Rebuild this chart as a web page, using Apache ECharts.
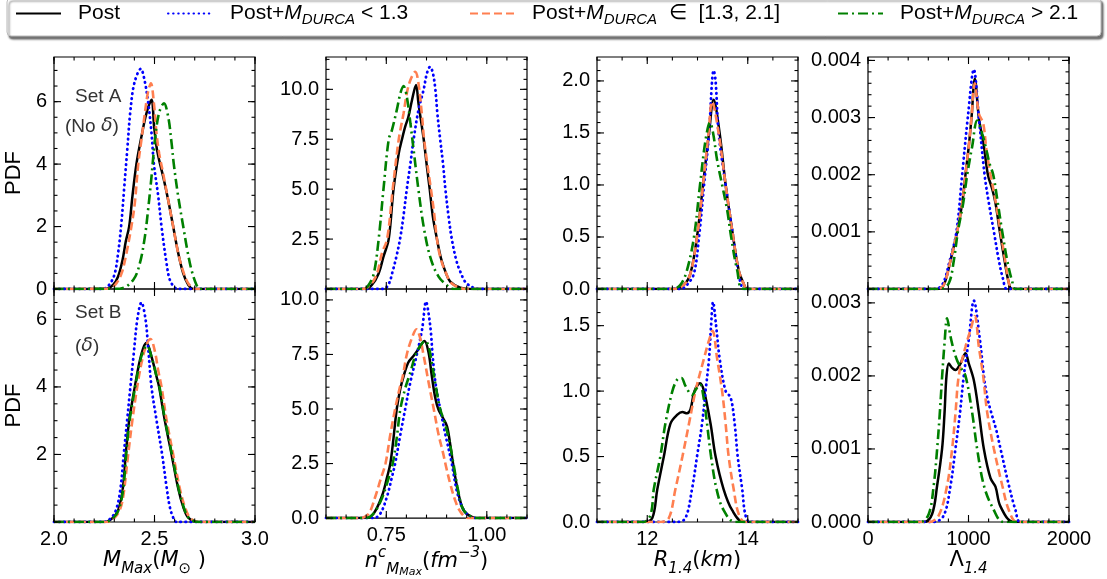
<!DOCTYPE html>
<html><head><meta charset="utf-8">
<script src="https://cdn.jsdelivr.net/npm/echarts@6/dist/echarts.min.js"></script>
<style>html,body{margin:0;padding:0;background:#fff}#c{width:1107px;height:579px}</style>
</head><body><div id="c"></div>
<script>
// ---------------- DATA ----------------
const seriesNames = ['Post', 'Post+M_DURCA<1.3', 'Post+M_DURCA in [1.3,2.1]', 'Post+M_DURCA>2.1'];

// Set A, M_Max
const mmaxA_post = [[2.0,0],[2.261,0.01],[2.294,0.13],[2.319,0.4],[2.341,0.93],[2.357,1.52],[2.374,2.0],[2.39,2.96],[2.41,4.0],[2.435,4.88],[2.46,5.63],[2.485,6.06],[2.498,5.2],[2.51,4.56],[2.523,4.13],[2.543,3.6],[2.568,2.85],[2.593,2.0],[2.618,1.15],[2.643,0.5],[2.668,0.13],[2.693,0],[3.0,0]];
const mmaxA_low = [[2.0,0],[2.24,0],[2.27,0.1],[2.30,0.45],[2.32,1.2],[2.335,2.1],[2.35,3.3],[2.365,4.5],[2.38,5.7],[2.40,6.6],[2.432,7.05],[2.45,6.7],[2.468,6.0],[2.485,5.0],[2.497,4.0],[2.518,3.0],[2.535,2.0],[2.56,0.82],[2.576,0.3],[2.60,0.05],[2.62,0],[3.0,0]];
const mmaxA_mid = [[2.0,0],[2.277,0.01],[2.31,0.18],[2.336,0.5],[2.357,1.04],[2.385,2.0],[2.402,2.75],[2.419,4.0],[2.435,4.78],[2.452,5.63],[2.468,6.32],[2.482,6.59],[2.497,5.95],[2.51,4.99],[2.523,4.35],[2.543,3.7],[2.568,2.85],[2.593,2.0],[2.618,1.14],[2.643,0.56],[2.668,0.18],[2.701,0],[3.0,0]];
const mmaxA_high = [[2.0,0],[2.327,0.01],[2.394,0.29],[2.427,0.82],[2.452,1.67],[2.468,2.53],[2.485,3.59],[2.497,4.45],[2.51,5.2],[2.527,5.73],[2.547,5.95],[2.568,5.52],[2.585,4.67],[2.596,4.0],[2.618,2.96],[2.643,2.0],[2.663,1.25],[2.684,0.61],[2.709,0.13],[2.726,0],[3.0,0]];
// Set B, M_Max
const mmaxB_post = [[2.0,0],[2.252,0],[2.294,0.13],[2.319,0.35],[2.336,0.74],[2.347,1.24],[2.357,2.0],[2.372,2.92],[2.385,3.42],[2.402,4.0],[2.424,4.7],[2.444,5.15],[2.46,5.3],[2.485,4.9],[2.51,4.31],[2.523,4.0],[2.551,3.02],[2.585,2.0],[2.618,0.99],[2.643,0.45],[2.668,0.13],[2.718,0],[3.0,0]];
const mmaxB_low = [[2.0,0],[2.244,0],[2.286,0.13],[2.311,0.4],[2.331,1.0],[2.347,2.0],[2.364,3.02],[2.38,4.0],[2.397,5.0],[2.415,6.02],[2.435,6.5],[2.455,6.02],[2.468,5.2],[2.485,4.0],[2.51,3.02],[2.538,2.0],[2.56,1.04],[2.576,0.45],[2.593,0.13],[2.61,0],[3.0,0]];
const mmaxB_mid = [[2.0,0],[2.269,0],[2.302,0.13],[2.327,0.35],[2.344,0.74],[2.369,2.0],[2.39,3.02],[2.414,4.0],[2.435,4.7],[2.46,5.25],[2.48,5.42],[2.502,5.05],[2.518,4.5],[2.535,4.0],[2.56,3.02],[2.593,2.0],[2.626,0.99],[2.651,0.45],[2.676,0.13],[2.718,0],[3.0,0]];
const mmaxB_high = [[2.0,0],[2.255,0],[2.296,0.13],[2.321,0.35],[2.338,0.74],[2.349,1.24],[2.359,2.0],[2.374,2.92],[2.387,3.42],[2.404,4.0],[2.426,4.7],[2.446,5.1],[2.462,5.22],[2.487,4.85],[2.512,4.28],[2.525,4.0],[2.553,3.0],[2.587,2.0],[2.62,0.99],[2.645,0.45],[2.67,0.13],[2.72,0],[3.0,0]];
// Set A, n^c
const ncA_post = [[0.6,0],[0.698,0],[0.714,0.2],[0.731,0.78],[0.743,1.62],[0.756,2.5],[0.768,5.0],[0.781,6.8],[0.789,7.5],[0.797,8.13],[0.805,8.63],[0.814,9.47],[0.824,10.22],[0.83,9.3],[0.843,7.5],[0.851,6.13],[0.858,5.0],[0.866,3.6],[0.876,2.5],[0.886,1.54],[0.897,0.87],[0.909,0.37],[0.934,0.07],[0.967,0],[1.1,0]];
const ncA_low = [[0.6,0],[0.743,0],[0.756,0.25],[0.766,0.9],[0.776,1.7],[0.785,2.6],[0.793,3.7],[0.801,5.0],[0.81,6.29],[0.818,7.5],[0.83,8.96],[0.843,10.0],[0.851,10.8],[0.859,11.13],[0.866,10.8],[0.872,10.0],[0.877,8.8],[0.884,7.5],[0.891,6.29],[0.897,5.0],[0.905,3.62],[0.913,2.5],[0.924,1.45],[0.934,0.87],[0.95,0.28],[0.983,0],[1.1,0]];
const ncA_mid = [[0.6,0],[0.69,0],[0.71,0.2],[0.727,0.78],[0.739,1.79],[0.752,2.5],[0.766,5.0],[0.781,7.5],[0.793,8.8],[0.801,9.8],[0.81,10.47],[0.822,10.88],[0.83,10.3],[0.839,8.63],[0.844,7.5],[0.853,6.13],[0.861,5.0],[0.869,3.79],[0.876,2.5],[0.884,1.62],[0.897,0.87],[0.913,0.28],[0.95,0],[1.1,0]];
const ncA_high = [[0.6,0],[0.694,0],[0.706,0.2],[0.719,0.78],[0.731,2.5],[0.743,5.0],[0.756,7.5],[0.764,7.96],[0.776,8.96],[0.785,9.8],[0.793,10.17],[0.801,9.63],[0.81,8.3],[0.818,6.96],[0.83,4.96],[0.843,3.12],[0.859,1.62],[0.88,0.62],[0.905,0.12],[0.917,0],[1.1,0]];
// Set B, n^c
const ncB_post = [[0.6,0],[0.698,0],[0.718,0.2],[0.739,1.0],[0.752,1.88],[0.76,2.5],[0.768,3.68],[0.776,5.0],[0.785,5.94],[0.793,6.5],[0.805,7.14],[0.818,7.44],[0.83,7.74],[0.845,8.12],[0.855,7.6],[0.863,6.54],[0.872,5.49],[0.88,4.96],[0.891,4.59],[0.901,4.21],[0.909,3.38],[0.916,2.5],[0.926,1.43],[0.938,0.53],[0.95,0.2],[0.975,0],[1.1,0]];
const ncB_low = [[0.6,0],[0.719,0],[0.735,0.2],[0.752,1.0],[0.764,1.88],[0.772,2.5],[0.785,3.83],[0.797,5.0],[0.81,6.24],[0.826,7.5],[0.839,8.65],[0.849,9.92],[0.855,9.4],[0.861,8.5],[0.865,7.5],[0.872,6.24],[0.884,5.0],[0.897,3.83],[0.913,2.5],[0.925,1.28],[0.938,0.53],[0.95,0.2],[0.967,0],[1.1,0]];
const ncB_mid = [[0.6,0],[0.685,0],[0.706,0.2],[0.723,1.0],[0.735,1.73],[0.748,2.5],[0.76,3.83],[0.772,5.0],[0.783,5.94],[0.791,6.5],[0.801,7.5],[0.814,8.27],[0.825,8.65],[0.834,8.27],[0.843,7.44],[0.855,6.24],[0.868,5.0],[0.88,3.83],[0.891,3.0],[0.899,2.33],[0.909,1.58],[0.921,0.83],[0.934,0.3],[0.954,0],[1.1,0]];
const ncB_high = [[0.6,0],[0.698,0],[0.718,0.2],[0.739,0.9],[0.754,1.73],[0.766,2.5],[0.776,3.68],[0.785,5.0],[0.797,5.94],[0.81,6.69],[0.822,7.44],[0.834,7.89],[0.847,8.12],[0.855,7.89],[0.863,7.14],[0.874,5.94],[0.884,5.0],[0.894,4.44],[0.905,3.68],[0.917,2.5],[0.927,1.43],[0.938,0.53],[0.95,0.2],[0.975,0],[1.1,0]];
// Set A, R_1.4
const rA_post = [[11,0],[12.53,0],[12.73,0.04],[12.86,0.15],[12.99,0.5],[13.11,1.0],[13.23,1.5],[13.32,1.82],[13.44,1.5],[13.56,1.0],[13.71,0.5],[13.82,0.18],[13.92,0.05],[13.99,0],[15,0]];
const rA_low = [[11,0],[12.66,0],[12.79,0.04],[12.93,0.15],[13.03,0.5],[13.13,1.0],[13.23,1.5],[13.29,2.0],[13.32,2.1],[13.36,2.0],[13.42,1.5],[13.56,1.0],[13.71,0.5],[13.82,0.15],[13.95,0],[15,0]];
const rA_mid = [[11,0],[12.53,0],[12.73,0.04],[12.86,0.15],[12.99,0.5],[13.11,1.0],[13.22,1.5],[13.29,1.8],[13.42,1.5],[13.56,1.0],[13.71,0.5],[13.82,0.18],[13.92,0.05],[13.99,0],[15,0]];
const rA_high = [[11,0],[12.5,0],[12.66,0.04],[12.79,0.18],[12.93,0.5],[13.05,1.0],[13.16,1.43],[13.25,1.6],[13.31,1.5],[13.39,1.24],[13.49,1.0],[13.59,0.76],[13.67,0.5],[13.79,0.18],[13.92,0],[15,0]];
// Set B, R_1.4
const rB_post = [[11,0],[11.93,0],[12.1,0.03],[12.2,0.25],[12.33,0.5],[12.46,0.75],[12.6,0.82],[12.7,0.84],[12.79,0.83],[12.86,0.86],[12.94,1.0],[13.05,1.06],[13.13,1.0],[13.26,0.75],[13.36,0.5],[13.52,0.25],[13.69,0.09],[13.92,0],[15,0]];
const rB_low = [[11,0],[12.6,0],[12.76,0.03],[12.89,0.25],[12.99,0.5],[13.09,0.75],[13.16,1.0],[13.23,1.25],[13.27,1.5],[13.31,1.68],[13.37,1.5],[13.44,1.25],[13.56,1.0],[13.66,0.95],[13.74,0.75],[13.8,0.5],[13.89,0.25],[13.95,0.06],[14.04,0],[15,0]];
const rB_mid = [[11,0],[12.26,0],[12.43,0.03],[12.56,0.25],[12.7,0.5],[12.83,0.75],[12.96,1.0],[13.13,1.25],[13.23,1.39],[13.3,1.46],[13.39,1.25],[13.49,1.0],[13.56,0.75],[13.62,0.5],[13.72,0.25],[13.82,0.06],[13.95,0],[15,0]];
const rB_high = [[11,0],[11.93,0],[12.07,0.06],[12.13,0.25],[12.26,0.5],[12.36,0.75],[12.5,1.0],[12.6,1.09],[12.68,1.1],[12.76,1.04],[12.89,0.97],[12.98,1.02],[13.05,1.05],[13.13,0.93],[13.19,0.75],[13.27,0.5],[13.38,0.25],[13.52,0.09],[13.75,0],[15,0]];
// Set A, Lambda_1.4
const lamA_post = [[0,0],[688,0],[754,0.00007],[821,0.0005],[887,0.001],[937,0.0015],[970,0.002],[1003,0.0025],[1030,0.003],[1063,0.00368],[1103,0.003],[1153,0.0025],[1193,0.002],[1236,0.00175],[1269,0.0015],[1312,0.001],[1359,0.0005],[1402,0.0001],[1435,0],[2000,0]];
const lamA_low = [[0,0],[654,0],[738,0.00007],[814,0.0005],[880,0.001],[937,0.002],[993,0.003],[1053,0.00384],[1103,0.003],[1160,0.002],[1203,0.0015],[1253,0.001],[1302,0.0005],[1346,0.00016],[1385,0],[2000,0]];
const lamA_mid = [[0,0],[688,0],[754,0.00007],[821,0.0005],[887,0.001],[937,0.0015],[970,0.002],[1003,0.0025],[1030,0.003],[1063,0.0036],[1103,0.00307],[1146,0.0029],[1179,0.00243],[1219,0.002],[1262,0.00161],[1319,0.001],[1365,0.0005],[1402,0.0001],[1435,0],[2000,0]];
const lamA_high = [[0,0],[721,0],[804,0.0001],[854,0.0005],[894,0.001],[947,0.0015],[987,0.002],[1037,0.0025],[1086,0.00295],[1136,0.00272],[1169,0.0025],[1209,0.0022],[1246,0.002],[1292,0.0015],[1336,0.001],[1385,0.0005],[1435,0.00013],[1468,0],[2000,0]];
// Set B, Lambda_1.4
const lamB_post = [[0,0],[555,0],[638,0.00011],[688,0.0005],[737,0.001],[761,0.00148],[781,0.002],[804,0.00217],[837,0.00211],[870,0.00208],[920,0.00217],[970,0.00231],[1003,0.00217],[1053,0.00194],[1103,0.0015],[1153,0.001],[1219,0.0006],[1269,0.00048],[1319,0.00021],[1452,0],[2000,0]];
const lamB_low = [[0,0],[654,0],[754,0.00009],[821,0.0005],[870,0.001],[914,0.00148],[953,0.002],[1003,0.0025],[1053,0.00303],[1113,0.0025],[1153,0.002],[1186,0.00171],[1226,0.0015],[1276,0.00126],[1319,0.001],[1402,0.0005],[1468,0.00016],[1518,0],[2000,0]];
const lamB_mid = [[0,0],[605,0],[704,0.00009],[787,0.0005],[837,0.001],[870,0.00148],[903,0.002],[970,0.0024],[1020,0.00263],[1063,0.00282],[1103,0.0024],[1146,0.002],[1186,0.0015],[1253,0.001],[1336,0.0005],[1402,0.00016],[1485,0],[2000,0]];
const lamB_high = [[0,0],[522,0],[605,0.00011],[654,0.0005],[688,0.001],[714,0.00148],[738,0.002],[761,0.00244],[787,0.00279],[821,0.00254],[854,0.00235],[887,0.00221],[920,0.00212],[970,0.002],[1036,0.0015],[1086,0.001],[1153,0.0005],[1236,0.00021],[1352,0],[2000,0]];

// tick labels
const mmaxTicks = [2.0, 2.5, 3.0];
const ncTicks = [0.75, 1.00];
const rTicks = [12, 14];
const lamTicks = [0, 1000, 2000];
const pdfA_mmax = [0, 2, 4, 6];
const pdfA_nc = [2.5, 5.0, 7.5, 10.0];
const pdfA_r = [0.0, 0.5, 1.0, 1.5, 2.0];
const pdfA_lam = [0.001, 0.002, 0.003, 0.004];
const pdfB_mmax = [2, 4, 6];
const pdfB_nc = [0.0, 2.5, 5.0, 7.5, 10.0];
const pdfB_r = [0.0, 0.5, 1.0, 1.5];
const pdfB_lam = [0.000, 0.001, 0.002, 0.003];

// ---------------- LAYOUT / STYLE ----------------
function steps(a, b, s) { const out = []; const n = Math.floor((b - a) / s + 1e-6); for (let i = 0; i <= n; i++) out.push(+(a + i * s).toFixed(8)); return out; }
const colLeft = [54, 326, 597, 868];
const colW = 201;
const rowTop = [57, 289];
const rowH = [232, 233];
const TICKFONT = 'Liberation Sans';
const MATHFONT = 'DejaVu Sans';
const LONG = 7, SHORT = 3.5;

const xSpec = [
  {min: 2.0, max: 3.0, interval: 0.5, majors: [2.0, 2.5, 3.0], minor: 0.1, labels: mmaxTicks, fmt: v => v.toFixed(1),
   name: '{i|M}{s|Max}{n|(}{i|M}{s|⊙}{n| )}'},
  {min: 0.6, max: 1.1, interval: 0.05, majors: [0.75, 1.0], minor: 0.05, labels: ncTicks, fmt: v => v.toFixed(2),
   name: '{i|n}{sup|c}{s|M}{ss|Max}{n|(}{i|fm}{sup|−3}{n|)}'},
  {min: 11, max: 15, interval: 0.5, majors: [12, 14], minor: 0.5, labels: rTicks, fmt: v => String(v),
   name: '{i|R}{s|1.4}{n|(}{i|km}{n|)}'},
  {min: 0, max: 2000, interval: 1000, majors: [0, 1000, 2000], minor: 200, labels: lamTicks, fmt: v => String(v),
   name: '{n|Λ}{s|1.4}'}
];
const ySpec = [
  [ {max: 7.43, interval: 2, minor: 0.5, labels: pdfA_mmax, fmt: v => String(v)},
    {max: 11.62, interval: 2.5, minor: 0.5, labels: pdfA_nc, fmt: v => v.toFixed(1)},
    {max: 2.23, interval: 0.5, minor: 0.1, labels: pdfA_r, fmt: v => v.toFixed(1)},
    {max: 0.00406, interval: 0.001, minor: 0.0002, labels: pdfA_lam, fmt: v => v.toFixed(3)} ],
  [ {max: 6.9, interval: 2, minor: 0.5, labels: pdfB_mmax, fmt: v => String(v)},
    {max: 10.5, interval: 2.5, minor: 0.5, labels: pdfB_nc, fmt: v => v.toFixed(1)},
    {max: 1.78, interval: 0.5, minor: 0.1, labels: pdfB_r, fmt: v => v.toFixed(1)},
    {max: 0.00319, interval: 0.001, minor: 0.0002, labels: pdfB_lam, fmt: v => v.toFixed(3)} ]
];
const panelData = [
  [ [mmaxA_post, mmaxA_low, mmaxA_mid, mmaxA_high], [ncA_post, ncA_low, ncA_mid, ncA_high], [rA_post, rA_low, rA_mid, rA_high], [lamA_post, lamA_low, lamA_mid, lamA_high] ],
  [ [mmaxB_post, mmaxB_low, mmaxB_mid, mmaxB_high], [ncB_post, ncB_low, ncB_mid, ncB_high], [rB_post, rB_low, rB_mid, rB_high], [lamB_post, lamB_low, lamB_mid, lamB_high] ]
];
const lineStyles = [
  {color: '#000000', width: 2.5, type: 'solid'},
  {color: '#0000ff', width: 2.8, type: [0.5, 4.6], cap: 'round'},
  {color: '#ff7f50', width: 2.6, type: [8, 4]},
  {color: '#008000', width: 2.6, type: [10, 4, 2, 4]}
];

const mathRich = {
  n: {fontFamily: MATHFONT, fontSize: 21, color: '#000', lineHeight: 32},
  i: {fontFamily: MATHFONT, fontStyle: 'italic', fontSize: 21, color: '#000', lineHeight: 32},
  s: {fontFamily: MATHFONT, fontStyle: 'italic', fontSize: 15, color: '#000', lineHeight: 17, verticalAlign: 'bottom'},
  ss: {fontFamily: MATHFONT, fontStyle: 'italic', fontSize: 11, color: '#000', lineHeight: 10, verticalAlign: 'bottom'},
  sup: {fontFamily: MATHFONT, fontStyle: 'italic', fontSize: 15, color: '#000', lineHeight: 17, verticalAlign: 'top'}
};

function pickLabel(list, fmt) {
  return v => list.some(l => Math.abs(l - v) < 1e-9 * Math.max(1, Math.abs(l)) || Math.abs(l - v) < 1e-12) ? fmt(v) : '';
}
function axisDef(o) {
  const ax = {type: 'value', gridIndex: o.g, min: o.min, max: o.max, interval: o.interval,
    axisLine: {show: false, onZero: false},
    splitLine: {show: false},
    axisTick: {show: false},
    axisLabel: o.label ? {show: true, formatter: pickLabel(o.labels, o.fmt), margin: 7, fontFamily: TICKFONT, fontSize: 20, color: '#000'}
                       : {show: false}};
  if (o.name) { ax.name = o.name; ax.nameLocation = 'middle'; ax.nameGap = o.nameGap; ax.nameTextStyle = o.nameTextStyle; }
  return ax;
}

// tick marks: inward ticks on all four sides, placed through the panel's own scales
function tickRenderer(params, api) {
  const side = api.value(2), len = api.value(3);
  const p = api.coord([api.value(0), api.value(1)]);
  let x2 = p[0], y2 = p[1];
  if (side === 0) y2 -= len; else if (side === 1) y2 += len; else if (side === 2) x2 += len; else x2 -= len;
  return {type: 'line', shape: {x1: p[0], y1: p[1], x2: x2, y2: y2}, style: {stroke: '#000', lineWidth: 1.1}};
}

const grids = [], xAxes = [], yAxes = [], series = [];
for (let r = 0; r < 2; r++) {
  for (let c = 0; c < 4; c++) {
    const g = grids.length;
    grids.push({left: colLeft[c], top: rowTop[r], width: colW, height: rowH[r], show: true, borderColor: '#000', borderWidth: 1.2, backgroundColor: 'transparent'});
    const xs = xSpec[c], ys = ySpec[r][c];
    xAxes.push(axisDef({g, min: xs.min, max: xs.max, interval: xs.interval,
      label: r === 1, labels: xs.labels, fmt: xs.fmt,
      name: r === 1 ? xs.name : '', nameGap: 11, nameTextStyle: {rich: mathRich}}));
    yAxes.push(axisDef({g, min: 0, max: ys.max, interval: ys.interval,
      label: true, labels: ys.labels, fmt: ys.fmt,
      name: c === 0 ? 'PDF' : '', nameGap: 29, nameTextStyle: {fontFamily: TICKFONT, fontSize: 22, color: '#000'}}));
    panelData[r][c].forEach((d, k) => {
      series.push({type: 'line', name: seriesNames[k], xAxisIndex: g, yAxisIndex: g, data: d,
        smooth: 0.35, symbol: 'none', showSymbol: false, clip: true,
        lineStyle: lineStyles[k], itemStyle: {color: lineStyles[k].color}, z: 3 + k});
    });
    // tick list: [x, y, side(0 bottom,1 top,2 left,3 right), length]
    const ticks = [];
    const xMinor = steps(xs.min, xs.max, xs.minor), yMajor = steps(0, ys.max, ys.interval), yMinor = steps(0, ys.max, ys.minor);
    xMinor.forEach(v => { ticks.push([v, 0, 0, SHORT]); ticks.push([v, ys.max, 1, SHORT]); });
    xs.majors.forEach(v => { ticks.push([v, 0, 0, LONG]); ticks.push([v, ys.max, 1, LONG]); });
    yMinor.forEach(v => { ticks.push([xs.min, v, 2, SHORT]); ticks.push([xs.max, v, 3, SHORT]); });
    yMajor.forEach(v => { ticks.push([xs.min, v, 2, LONG]); ticks.push([xs.max, v, 3, LONG]); });
    series.push({type: 'custom', name: 'ticks', xAxisIndex: g, yAxisIndex: g, data: ticks, renderItem: tickRenderer,
      silent: true, clip: false, z: 10, tooltip: {show: false}});
  }
}

const legendLabels = {
  'Post': '{n|Post}',
  'Post+M_DURCA<1.3': '{n|Post+}{i|M}{s|DURCA}{n| < 1.3}',
  'Post+M_DURCA in [1.3,2.1]': '{n|Post+}{i|M}{s|DURCA}{n|  ∈  [1.3, 2.1]}',
  'Post+M_DURCA>2.1': '{n|Post+}{i|M}{s|DURCA}{n| > 2.1}'
};
const legendRich = {
  n: {fontFamily: TICKFONT, fontSize: 21, color: '#000', lineHeight: 28},
  i: {fontFamily: TICKFONT, fontStyle: 'italic', fontSize: 21, color: '#000', lineHeight: 28},
  s: {fontFamily: TICKFONT, fontStyle: 'italic', fontSize: 15, color: '#000', lineHeight: 16, verticalAlign: 'bottom'}
};
const legendLeft = [15, 167, 469, 837];
const legends = seriesNames.map((nm, k) => ({
  data: [nm], left: legendLeft[k], top: 3, padding: 0, itemWidth: 45, itemHeight: 14,
  formatter: name => legendLabels[name], selectedMode: false,
  itemStyle: {opacity: 0},
  textStyle: {rich: legendRich, padding: [0, 0, 0, 12]}
}));

const chart = echarts.init(document.getElementById('c'), null, {renderer: 'canvas'});
chart.setOption({
  animation: false,
  backgroundColor: '#fff',
  grid: grids, xAxis: xAxes, yAxis: yAxes, series: series, legend: legends,
  graphic: [
    {type: 'rect', z: 0, shape: {x: 7, y: -2, width: 1094, height: 38, r: 4},
     style: {fill: '#fff', stroke: '#bbbbbb', lineWidth: 1, shadowBlur: 2, shadowOffsetX: 2, shadowOffsetY: 3, shadowColor: 'rgba(0,0,0,0.55)'}},
    {type: 'text', z: 10, left: 75, top: 87, style: {text: 'Set A', font: '19px "Liberation Sans"', fill: '#333'}},
    {type: 'text', z: 10, left: 65, top: 117, style: {text: '{n|(No }{i|δ}{n|)}', rich: {n: {font: '19px "Liberation Sans"', fill: '#333'}, i: {font: 'italic 19px "DejaVu Sans"', fill: '#333'}}}},
    {type: 'text', z: 10, left: 75, top: 303, style: {text: 'Set B', font: '19px "Liberation Sans"', fill: '#333'}},
    {type: 'text', z: 10, left: 75, top: 337, style: {text: '{n|(}{i|δ}{n|)}', rich: {n: {font: '19px "Liberation Sans"', fill: '#333'}, i: {font: 'italic 19px "DejaVu Sans"', fill: '#333'}}}}
  ]
});
</script></body></html>
